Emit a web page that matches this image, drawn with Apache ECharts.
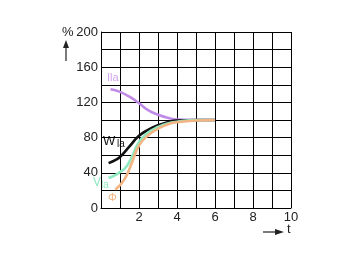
<!DOCTYPE html>
<html><head><meta charset="utf-8">
<script src="https://cdn.jsdelivr.net/npm/echarts@6/dist/echarts.min.js"></script>
<style>html,body{margin:0;padding:0;background:#fff}#c{width:360px;height:262px}</style>
</head><body><div id="c"></div>
<script>
var xTicks = [0,1,2,3,4,5,6,7,8,9,10];
var yTicks = [0,40,80,120,160,200];
var Ila = [[0.5,135],[1,132],[1.5,126.5],[2,119],[2.5,111],[3,106],[3.5,102.5],[4,100.5],[5,100],[6,100]];
var Wla = [[0.4,51],[0.8,55],[1,58],[1.5,70],[2,82],[2.5,89],[3,94],[3.5,97.5],[4,99.5],[5,100],[6,100]];
var Vla = [[0.4,34],[0.8,38],[1,41],[1.3,46],[1.6,57],[2,75],[2.5,86],[3,92],[3.5,96],[4,98],[5,100],[6,100]];
var Phi = [[0.75,21],[1,26],[1.3,35],[1.6,50],[2,71],[2.5,83],[3,90],[3.5,95],[4,97.5],[5,99.5],[6,100]];

var chart = echarts.init(document.getElementById('c'));
var font = 'Liberation Sans, Arial, sans-serif';
function line(name, data, color){
  return {type:'line', name:name, data:data, smooth:0.5, symbol:'none',
    lineStyle:{color:color, width:2.6}, z:3};
}
chart.setOption({
  animation:false,
  grid:{left:101, top:32, right:69, bottom:54},
  xAxis:{type:'value', min:0, max:10, interval:1,
    axisLine:{show:true, lineStyle:{color:'#000', width:1}},
    axisTick:{show:false},
    splitLine:{show:true, lineStyle:{color:'#000', width:1}},
    axisLabel:{color:'#222', fontSize:13, fontFamily:font, margin:3,
      formatter:function(v){return (v%2===0 && v>0)? String(v):'';}}},
  yAxis:{type:'value', min:0, max:200, interval:20,
    axisLine:{show:true, lineStyle:{color:'#000', width:1}},
    axisTick:{show:false},
    splitLine:{show:true, lineStyle:{color:'#000', width:1}},
    axisLabel:{color:'#222', fontSize:13, fontFamily:font, margin:3,
      formatter:function(v){return (yTicks.indexOf(v)>=0)? String(v):'';}}},
  series:[
    line('Ila', Ila, '#c08be6'),
    line('Wla', Wla, '#111111'),
    line('Vla', Vla, '#8fe9c0'),
    line('Phi', Phi, '#f2b482')
  ],
  graphic:[
    {type:'text', left:62, top:26, style:{text:'%', fontSize:13, fontFamily:font, fill:'#222'}},
    {type:'line', shape:{x1:66, y1:61, x2:66, y2:45}, style:{stroke:'#222', lineWidth:1.2}},
    {type:'polygon', shape:{points:[[63,48],[69,48],[66,40]]}, style:{fill:'#222'}},
    {type:'line', shape:{x1:263, y1:232, x2:278, y2:232}, style:{stroke:'#222', lineWidth:1.2}},
    {type:'polygon', shape:{points:[[275,229],[275,235],[284,232]]}, style:{fill:'#222'}},
    {type:'text', left:287, top:223, style:{text:'t', fontSize:13, fontFamily:font, fill:'#222'}},
    {type:'text', left:107, top:72, style:{text:'Ila', fontSize:11, fontFamily:font, fill:'#d3a5f0'}},
    {type:'text', left:103, top:135, style:{text:'W', fontSize:13, fontFamily:font, fill:'#111'}},
    {type:'text', left:117, top:139, style:{text:'la', fontSize:10, fontFamily:font, fill:'#111'}},
    {type:'text', left:93, top:177, style:{text:'V', fontSize:12, fontFamily:font, fill:'#8fe9c0'}},
    {type:'text', left:101, top:180, style:{text:'la', fontSize:10, fontFamily:font, fill:'#8fe9c0'}},
    {type:'text', left:108, top:192, style:{text:'Φ', fontSize:11, fontFamily:font, fill:'#f2b482'}}
  ]
});
</script></body></html>
